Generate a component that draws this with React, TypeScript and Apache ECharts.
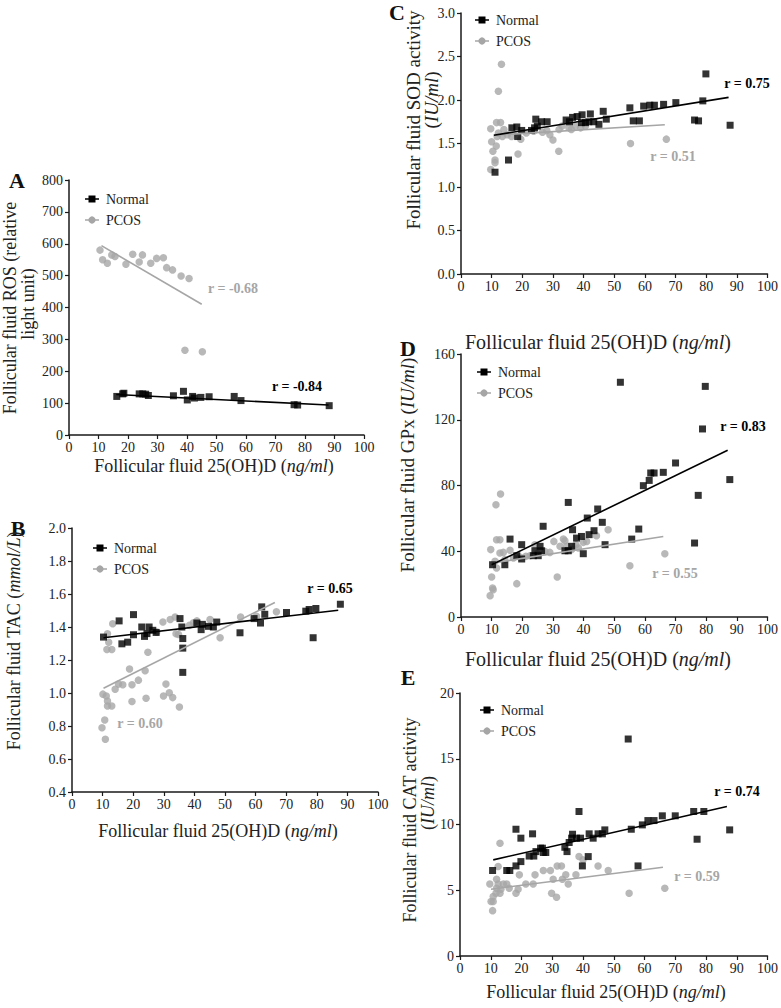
import React, { useEffect, useRef } from "react";
import * as echarts from "echarts";

// ---------- DATA ----------
const xTicks = [0, 10, 20, 30, 40, 50, 60, 70, 80, 90, 100];

// Panel A: ROS
const rosNormal = [[16.2,121],[18.2,129],[18.6,131],[23.8,129],[25,129],[26,128],[26.9,124],[35.4,123],[38.8,137],[40.1,110],[41.9,121],[42.5,116],[44.7,118],[47.5,120],[56,121],[58.3,108],[76.3,95],[77.5,94],[88.2,92]];
const rosPcos = [[10.5,580],[11.4,550],[13,539],[14.5,565],[15.6,560],[19.3,536],[21.6,567],[23.8,543],[24.9,565],[27.7,539],[29.7,554],[32,556],[33.1,525],[35.1,518],[38,499],[40.7,491],[39.3,266],[45.2,261]];
const rosFitNormal = [[16,127],[88,94]];
const rosFitPcos = [[11,594],[45,410]];

// Panel B: TAC
const tacNormal = [[10.3,1.339],[15.4,1.437],[16.3,1.298],[18.2,1.308],[20.1,1.353],[20.1,1.475],[22.8,1.4],[23.7,1.343],[24.5,1.36],[25.2,1.4],[26.4,1.38],[27.5,1.367],[35.3,1.451],[35.9,1.40],[36.2,1.33],[36.2,1.272],[36.2,1.125],[40.8,1.424],[42.2,1.384],[42.6,1.416],[44.6,1.404],[46.2,1.4],[47.3,1.43],[54.9,1.365],[59.5,1.451],[62,1.522],[61.6,1.424],[63,1.477],[70.1,1.488],[76.4,1.496],[77.5,1.506],[79.7,1.512],[78.8,1.335],[87.7,1.538]];
const tacPcos = [[9.8,0.789],[10.7,0.836],[10.9,0.72],[10.1,0.993],[11.2,0.982],[11.6,0.952],[11.6,0.921],[13,0.921],[11.6,1.359],[12,1.308],[13,1.264],[11.4,1.264],[13.3,1.42],[14.1,1.023],[15.2,1.054],[16.6,1.05],[18.8,1.145],[19.6,1.05],[19.6,0.948],[21.7,1.078],[24.2,0.968],[23.9,1.135],[24.8,1.247],[27.7,1.37],[29.7,1.43],[30.7,1.054],[29.9,0.982],[31.8,1.002],[32.9,0.972],[35.1,0.915],[32.1,1.445],[33.7,1.461],[34,1.359],[34.8,1.355],[38.4,1.41],[39.7,1.426],[40.8,1.437],[45.1,1.445],[48.4,1.335],[55.1,1.461],[60.3,1.465],[66.8,1.492]];
const tacFitNormal = [[10.3,1.335],[87,1.502]];
const tacFitPcos = [[10.3,1.029],[66.3,1.549]];

// Panel C: SOD
const sodNormal = [[11.1,1.17],[15.5,1.31],[16.6,1.68],[18.2,1.69],[18.5,1.58],[19.8,1.65],[23,1.65],[24,1.68],[24.4,1.78],[24.9,1.70],[26.3,1.75],[28.1,1.75],[34.3,1.77],[35.4,1.75],[36.4,1.8],[37.9,1.81],[39.5,1.83],[39.3,1.74],[40.6,1.74],[41.7,1.75],[42.2,1.84],[43.3,1.75],[45,1.72],[46.4,1.87],[47.4,1.78],[55.1,1.91],[56.2,1.76],[58.2,1.76],[59.6,1.93],[61.6,1.94],[63.1,1.94],[66.1,1.95],[70.1,1.97],[76.2,1.77],[77.5,1.76],[78.9,1.99],[79.9,2.3],[87.8,1.71]];
const sodPcos = [[9.7,1.2],[9.7,1.67],[10,1.52],[10.4,1.41],[11.1,1.31],[11.1,1.28],[11.5,1.47],[11.8,1.58],[12.2,2.1],[13.2,2.41],[11.6,1.74],[12.9,1.74],[12.2,1.62],[13.5,1.58],[14,1.66],[15.1,1.6],[16.5,1.58],[18.6,1.38],[19.5,1.55],[21.3,1.62],[23.7,1.64],[26.6,1.63],[28,1.65],[29,1.6],[30,1.54],[31.9,1.41],[32,1.66],[33,1.7],[35.2,1.68],[36,1.66],[37.4,1.7],[39,1.68],[40.6,1.7],[55.3,1.5],[67,1.55]];
const sodFitNormal = [[10.7,1.595],[87.3,2.03]];
const sodFitPcos = [[11,1.595],[66.5,1.715]];

// Panel D: GPx
const gpxNormal = [[10.3,31.8],[14.3,31.8],[16,47.4],[18.2,37.3],[19.8,44],[19.8,35.3],[23.6,37.3],[24.1,40.3],[25.2,37.3],[25.8,43],[26.3,40.3],[26.8,55.2],[33.9,40.3],[35,69.7],[35,40.3],[36.1,43],[36.4,53.1],[37.7,48],[39.3,49],[39.9,38.5],[41.2,60.2],[41.8,50.1],[43.4,52.5],[44.6,65.7],[46.1,57.6],[47,44],[52,142.8],[55.7,47.4],[58,53.5],[59.5,79.9],[61.4,83.1],[61.9,87.6],[63,87.6],[66,88],[70,93.7],[76.2,45],[77.4,74],[78.8,114.4],[79.7,140.3],[87.7,83.6]];
const gpxPcos = [[9.5,13],[10,24.3],[10.3,17.6],[10.5,16.6],[9.7,41],[11.4,68.3],[12.9,74.8],[11.6,47],[12.7,47],[11.1,33.9],[11.6,29.8],[12.7,38.9],[13.8,39.3],[14.3,34.9],[16,40.6],[17.1,35.9],[18.2,20.3],[19.2,36.5],[21.2,36.9],[22.5,37.3],[24.1,44],[24.9,38.5],[27.4,39.9],[29,39.3],[30.3,46],[31.4,24.3],[32.3,43],[33.4,47.4],[33.9,46.4],[34.5,43],[36.1,41],[37.5,44],[38.3,42],[39.9,45.4],[41,46],[44.2,49.5],[48,53.1],[55.1,31.2],[66.5,38.5]];
const gpxFitNormal = [[10,31.8],[87,101.4]];
const gpxFitPcos = [[11,33],[66,49]];

// Panel E: CAT
const catNormal = [[10.6,6.5],[15.2,6.5],[16.2,6.5],[18.2,9.64],[18.2,6.85],[19.8,8.96],[19.8,7.18],[22.5,7.6],[23.6,9.29],[24,7.6],[24.7,7.94],[26.2,8.2],[26.8,8.2],[27.1,7.87],[27.9,7.87],[34.1,8.27],[34.8,7.94],[35.5,8.63],[36.3,8.96],[36.6,9.26],[37.9,8.96],[38.7,10.99],[39.2,8.96],[39.8,6.85],[41.7,7.56],[42,9.29],[43.3,8.96],[44.9,9.29],[46.3,9.29],[47.1,9.59],[54.7,16.5],[55.7,9.64],[57.9,6.85],[59.3,9.97],[61.1,10.3],[63.1,10.3],[65.8,10.66],[70,10.66],[76,10.99],[77.1,8.88],[79.3,10.99],[87.7,9.59]];
const catPcos = [[9.7,5.48],[10.1,4.14],[10.8,4.14],[10.8,4.52],[11.7,4.77],[10.6,3.45],[11.9,5.15],[11.9,5.84],[12.4,5.48],[13,4.77],[13.3,5.08],[13,8.58],[12.4,6.8],[14.1,5.48],[15.2,5.48],[16,5.15],[18.2,4.77],[18.9,5.08],[19.3,6.17],[21.4,5.48],[23.8,5.48],[24.4,6.17],[27.1,6.5],[29.4,6.5],[29.8,4.77],[30.3,5.84],[31.4,4.47],[31.6,6.85],[33,6.85],[33.3,5.84],[34.4,6.17],[35.2,5.48],[37.7,6.17],[38.7,7.56],[40,7.31],[44.9,6.85],[48.2,6.5],[55,4.77],[66.6,5.15]];
const catFitNormal = [[10.8,7.31],[86.8,11.37]];
const catFitPcos = [[10.1,5.08],[66,6.75]];

const rLabels = ["r = -0.84", "r = -0.68", "r = 0.65", "r = 0.60", "r = 0.75", "r = 0.51", "r = 0.83", "r = 0.55", "r = 0.74", "r = 0.59"];
const panelLetters = ["A", "B", "C", "D", "E"];

// ---------- STYLE ----------
const FONT = "Liberation Serif";
const BLACK = "#000";
const GREY = "#a6a6a6";
const AX = "#1a1a1a";

const grids = [
  { left: 69, top: 180, width: 295, height: 255 },
  { left: 72, top: 528, width: 306, height: 264 },
  { left: 461, top: 13, width: 308, height: 261 },
  { left: 461, top: 354, width: 307, height: 263 },
  { left: 460, top: 693, width: 308, height: 263 },
];
const yDefs = [
  { min: 0, max: 800, interval: 100, dec: 0, fs: 14 },
  { min: 0.4, max: 2.0, interval: 0.2, dec: 1, fs: 14 },
  { min: 0, max: 3.0, interval: 0.5, dec: 1, fs: 14 },
  { min: 0, max: 160, interval: 40, dec: 0, fs: 14 },
  { min: 0, max: 20, interval: 5, dec: 0, fs: 14 },
];
const xFs = [14, 14, 14, 14, 14];

const panels = [
  { n: rosNormal, p: rosPcos, fn: rosFitNormal, fp: rosFitPcos },
  { n: tacNormal, p: tacPcos, fn: tacFitNormal, fp: tacFitPcos },
  { n: sodNormal, p: sodPcos, fn: sodFitNormal, fp: sodFitPcos },
  { n: gpxNormal, p: gpxPcos, fn: gpxFitNormal, fp: gpxFitPcos },
  { n: catNormal, p: catPcos, fn: catFitNormal, fp: catFitPcos },
];

function txt(x: number, y: number, text: string, opts: any = {}) {
  return {
    type: "text",
    x,
    y,
    rotation: opts.rotation || 0,
    silent: true,
    style: {
      text,
      fill: opts.fill || "#222",
      fontSize: opts.fontSize || 14,
      fontFamily: FONT,
      fontWeight: opts.fontWeight || "normal",
      fontStyle: opts.fontStyle || "normal",
      align: opts.align || "center",
      verticalAlign: "middle",
      textAlign: opts.align || "center",
      textVerticalAlign: "middle",
      rich: opts.rich,
    },
  };
}

function richTitle(x: number, y: number, pre: string, ital: string, post: string, fs: number, rotate: boolean) {
  const base = { fontSize: fs, fontFamily: FONT, fill: "#222" };
  return txt(x, y, `{n|${pre}}{i|${ital}}{n|${post}}`, {
    rotation: rotate ? Math.PI / 2 : 0,
    fontSize: fs,
    rich: { n: { ...base }, i: { ...base, fontStyle: "italic" } },
  });
}

function legend(x: number, y: number) {
  return [
    { type: "line", silent: true, shape: { x1: x - 7, y1: y, x2: x + 7, y2: y }, style: { stroke: BLACK, lineWidth: 1.5 } },
    { type: "rect", silent: true, shape: { x: x - 3.5, y: y - 3.5, width: 7, height: 7 }, style: { fill: BLACK } },
    txt(x + 14, y, "Normal", { align: "left", fontSize: 14 }),
    { type: "line", silent: true, shape: { x1: x - 7, y1: y + 21, x2: x + 7, y2: y + 21 }, style: { stroke: GREY, lineWidth: 1.5 } },
    { type: "circle", silent: true, shape: { cx: x, cy: y + 21, r: 3.6 }, style: { fill: GREY } },
    txt(x + 14, y + 21, "PCOS", { align: "left", fontSize: 14 }),
  ];
}

export default function App() {
  const ref = useRef<HTMLDivElement>(null);
  useEffect(() => {
    if (!ref.current) return;
    const chart = echarts.init(ref.current, undefined, { renderer: "svg" });

    const xAxis = grids.map((_, i) => ({
      type: "value",
      gridIndex: i,
      min: xTicks[0],
      max: xTicks[xTicks.length - 1],
      interval: 10,
      axisLine: { show: true, onZero: false, lineStyle: { color: AX, width: 1.5 } },
      axisTick: { show: true, length: 4, lineStyle: { color: AX, width: 1.2 } },
      axisLabel: { color: "#222", fontFamily: FONT, fontSize: xFs[i], margin: 5 },
      splitLine: { show: false },
    }));
    const yAxis = yDefs.map((d, i) => ({
      type: "value",
      gridIndex: i,
      min: d.min,
      max: d.max,
      interval: d.interval,
      axisLine: { show: true, onZero: false, lineStyle: { color: AX, width: 1.5 } },
      axisTick: { show: true, length: 4, lineStyle: { color: AX, width: 1.2 } },
      axisLabel: {
        color: "#222",
        fontFamily: FONT,
        fontSize: d.fs,
        margin: 6,
        formatter: (v: number) => v.toFixed(d.dec),
      },
      splitLine: { show: false },
    }));

    const series: any[] = [];
    panels.forEach((pn, i) => {
      series.push({
        type: "scatter", name: "PCOS", xAxisIndex: i, yAxisIndex: i, data: pn.p,
        symbol: "circle", symbolSize: 7.5, itemStyle: { color: GREY }, silent: true,
      });
      series.push({
        type: "scatter", name: "Normal", xAxisIndex: i, yAxisIndex: i, data: pn.n,
        symbol: "rect", symbolSize: 7, itemStyle: { color: BLACK }, silent: true,
      });
      series.push({
        type: "line", name: "PCOS fit", xAxisIndex: i, yAxisIndex: i, data: pn.fp,
        symbol: "none", lineStyle: { color: GREY, width: 1.6 }, silent: true, z: 3,
      });
      series.push({
        type: "line", name: "Normal fit", xAxisIndex: i, yAxisIndex: i, data: pn.fn,
        symbol: "none", lineStyle: { color: BLACK, width: 1.6 }, silent: true, z: 3,
      });
    });

    const letterPos = [[17, 180], [18, 528], [397, 12], [408, 348], [408, 677]];
    const rPos = [[297, 386, BLACK], [233, 288, GREY], [330, 588, BLACK], [140, 723, GREY], [747, 83, BLACK], [673, 156, GREY], [743, 426, BLACK], [675, 573, GREY], [737, 791, BLACK], [697, 876, GREY]];
    const legendPos = [[92, 199], [100, 548], [482, 20], [484, 372], [487, 710]];

    const graphic: any[] = [];
    panelLetters.forEach((l, i) => {
      graphic.push(txt(letterPos[i][0], letterPos[i][1], l, { fontSize: 22, fontWeight: "bold", fill: "#111" }));
    });
    rLabels.forEach((t, i) => {
      graphic.push(txt(rPos[i][0] as number, rPos[i][1] as number, t, { fontSize: 14, fontWeight: "bold", fill: rPos[i][2] as string }));
    });
    legendPos.forEach((p) => graphic.push(...legend(p[0], p[1])));

    // x titles
    const xTitlePos = [[214, 466, 18], [218, 831, 18], [598, 342, 20], [598, 659, 20], [606, 992, 18]];
    xTitlePos.forEach((p) => graphic.push(richTitle(p[0], p[1], "Follicular fluid 25(OH)D (", "ng/ml", ")", p[2], false)));

    // y titles
    graphic.push(txt(10, 308, "Follicular fluid ROS (relative", { rotation: Math.PI / 2, fontSize: 18 }));
    graphic.push(txt(28, 304, "light unit)", { rotation: Math.PI / 2, fontSize: 18 }));
    graphic.push(richTitle(14, 641, "Follicular fluid TAC (", "mmol/L", ")", 18, true));
    graphic.push(txt(413, 120, "Follicular fluid SOD activity", { rotation: Math.PI / 2, fontSize: 19 }));
    graphic.push(richTitle(431, 100, "(", "IU/ml", ")", 19, true));
    graphic.push(richTitle(407, 465, "Follicular fluid GPx (", "IU/ml", ")", 19, true));
    graphic.push(txt(410, 820, "Follicular fluid CAT activity", { rotation: Math.PI / 2, fontSize: 18 }));
    graphic.push(richTitle(428, 803, "(", "IU/ml", ")", 18, true));

    chart.setOption({
      animation: false,
      backgroundColor: "#fff",
      grid: grids,
      xAxis,
      yAxis,
      series,
      graphic,
    });
    return () => chart.dispose();
  }, []);
  return <div ref={ref} style={{ position: "absolute", left: 0, top: 0, width: 781, height: 1008 }} />;
}
